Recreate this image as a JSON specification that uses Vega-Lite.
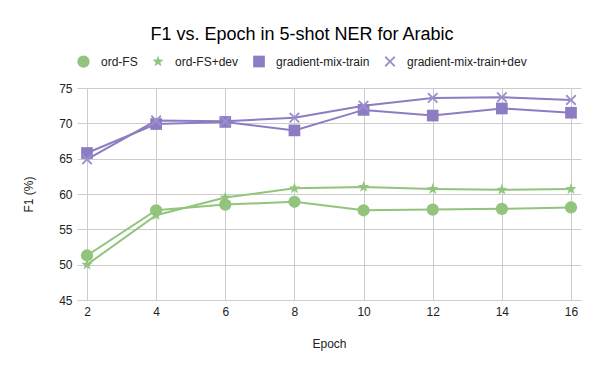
{
  "$schema": "https://vega.github.io/schema/vega-lite/v6.json",
  "width": 504,
  "height": 212,
  "autosize": {"type": "none"},
  "padding": {"left": 77, "top": 88, "right": 19, "bottom": 71},
  "background": "white",
  "title": {
    "text": "F1 vs. Epoch in 5-shot NER for Arabic",
    "font": "Liberation Sans",
    "fontSize": 18,
    "fontWeight": "normal",
    "color": "#000000",
    "anchor": "middle",
    "dx": -27,
    "offset": 11
  },
  "config": {
    "view": {"stroke": null},
    "axis": {
      "labelFont": "Liberation Sans",
      "titleFont": "Liberation Sans",
      "labelFontSize": 12,
      "titleFontSize": 12,
      "titleFontWeight": "normal",
      "labelColor": "#222222",
      "titleColor": "#222222",
      "gridColor": "#cccccc",
      "gridOpacity": 1,
      "domain": false,
      "ticks": false
    },
    "legend": {
      "labelFont": "Liberation Sans",
      "labelFontSize": 12,
      "labelColor": "#222222"
    }
  },
  "data": {
    "values": [
      {"epoch": 2, "series": "ord-FS", "f1": 51.3},
      {"epoch": 4, "series": "ord-FS", "f1": 57.7},
      {"epoch": 6, "series": "ord-FS", "f1": 58.5},
      {"epoch": 8, "series": "ord-FS", "f1": 58.9},
      {"epoch": 10, "series": "ord-FS", "f1": 57.7},
      {"epoch": 12, "series": "ord-FS", "f1": 57.8},
      {"epoch": 14, "series": "ord-FS", "f1": 57.9},
      {"epoch": 16, "series": "ord-FS", "f1": 58.1},
      {"epoch": 2, "series": "ord-FS+dev", "f1": 50.0},
      {"epoch": 4, "series": "ord-FS+dev", "f1": 57.0},
      {"epoch": 6, "series": "ord-FS+dev", "f1": 59.5},
      {"epoch": 8, "series": "ord-FS+dev", "f1": 60.8},
      {"epoch": 10, "series": "ord-FS+dev", "f1": 61.0},
      {"epoch": 12, "series": "ord-FS+dev", "f1": 60.7},
      {"epoch": 14, "series": "ord-FS+dev", "f1": 60.6},
      {"epoch": 16, "series": "ord-FS+dev", "f1": 60.7},
      {"epoch": 2, "series": "gradient-mix-train", "f1": 65.8},
      {"epoch": 4, "series": "gradient-mix-train", "f1": 69.9},
      {"epoch": 6, "series": "gradient-mix-train", "f1": 70.2},
      {"epoch": 8, "series": "gradient-mix-train", "f1": 69.0},
      {"epoch": 10, "series": "gradient-mix-train", "f1": 71.9},
      {"epoch": 12, "series": "gradient-mix-train", "f1": 71.1},
      {"epoch": 14, "series": "gradient-mix-train", "f1": 72.1},
      {"epoch": 16, "series": "gradient-mix-train", "f1": 71.5},
      {"epoch": 2, "series": "gradient-mix-train+dev", "f1": 64.9},
      {"epoch": 4, "series": "gradient-mix-train+dev", "f1": 70.4},
      {"epoch": 6, "series": "gradient-mix-train+dev", "f1": 70.3},
      {"epoch": 8, "series": "gradient-mix-train+dev", "f1": 70.8},
      {"epoch": 10, "series": "gradient-mix-train+dev", "f1": 72.5},
      {"epoch": 12, "series": "gradient-mix-train+dev", "f1": 73.6},
      {"epoch": 14, "series": "gradient-mix-train+dev", "f1": 73.7},
      {"epoch": 16, "series": "gradient-mix-train+dev", "f1": 73.3}
    ]
  },
  "encoding": {
    "x": {
      "field": "epoch",
      "type": "quantitative",
      "scale": {"domain": [1.711, 16.289], "nice": false, "zero": false},
      "axis": {"values": [2, 4, 6, 8, 10, 12, 14, 16], "title": "Epoch", "labelPadding": 6, "titlePadding": 21}
    },
    "y": {
      "field": "f1",
      "type": "quantitative",
      "scale": {"domain": [45, 75], "nice": false, "zero": false},
      "axis": {"values": [45, 50, 55, 60, 65, 70, 75], "title": "F1 (%)", "labelPadding": 5, "titlePadding": 23}
    }
  },
  "layer": [
    {
      "mark": {"type": "line", "strokeWidth": 2},
      "encoding": {
        "stroke": {
          "field": "series",
          "type": "nominal",
          "scale": {"domain": ["ord-FS", "ord-FS+dev", "gradient-mix-train", "gradient-mix-train+dev"], "range": ["#93c47d", "#93c47d", "#8e7cc3", "#8e7cc3"]},
          "legend": {
            "title": null,
            "orient": "none",
            "direction": "horizontal",
            "legendX": 0,
            "legendY": -33,
            "labelOffset": 11,
            "columnPadding": 14,
            "padding": 0,
            "symbolStrokeWidth": 0
          }
        }
      }
    },
    {
      "mark": {"type": "point", "filled": true, "opacity": 1},
      "encoding": {
        "fill": {
          "field": "series",
          "type": "nominal",
          "scale": {"domain": ["ord-FS", "ord-FS+dev", "gradient-mix-train", "gradient-mix-train+dev"], "range": ["#93c47d", "#93c47d", "#8e7cc3", "#9d8fcc"]},
          "legend": {
            "title": null,
            "orient": "none",
            "direction": "horizontal",
            "legendX": 0,
            "legendY": -33,
            "labelOffset": 11,
            "columnPadding": 14,
            "padding": 0,
            "symbolStrokeWidth": 0
          }
        },
        "shape": {
          "field": "series",
          "type": "nominal",
          "scale": {
            "domain": ["ord-FS", "ord-FS+dev", "gradient-mix-train", "gradient-mix-train+dev"],
            "range": [
              "circle",
              "M0,-1L0.235,-0.324L0.951,-0.309L0.38,0.124L0.588,0.809L0,0.4L-0.588,0.809L-0.38,0.124L-0.951,-0.309L-0.235,-0.324Z",
              "square",
              "M0.72,-0.95L0.95,-0.72L0.23,0L0.95,0.72L0.72,0.95L0,0.23L-0.72,0.95L-0.95,0.72L-0.23,0L-0.95,-0.72L-0.72,-0.95L0,-0.23Z"
            ]
          },
          "legend": {
            "title": null,
            "orient": "none",
            "direction": "horizontal",
            "legendX": 0,
            "legendY": -33,
            "labelOffset": 11,
            "columnPadding": 14,
            "padding": 0,
            "symbolStrokeWidth": 0
          }
        },
        "size": {
          "field": "series",
          "type": "nominal",
          "scale": {"domain": ["ord-FS", "ord-FS+dev", "gradient-mix-train", "gradient-mix-train+dev"], "range": [150, 130, 90, 80]},
          "legend": {
            "title": null,
            "orient": "none",
            "direction": "horizontal",
            "legendX": 0,
            "legendY": -33,
            "labelOffset": 11,
            "columnPadding": 14,
            "padding": 0,
            "symbolStrokeWidth": 0
          }
        }
      }
    }
  ]
}
